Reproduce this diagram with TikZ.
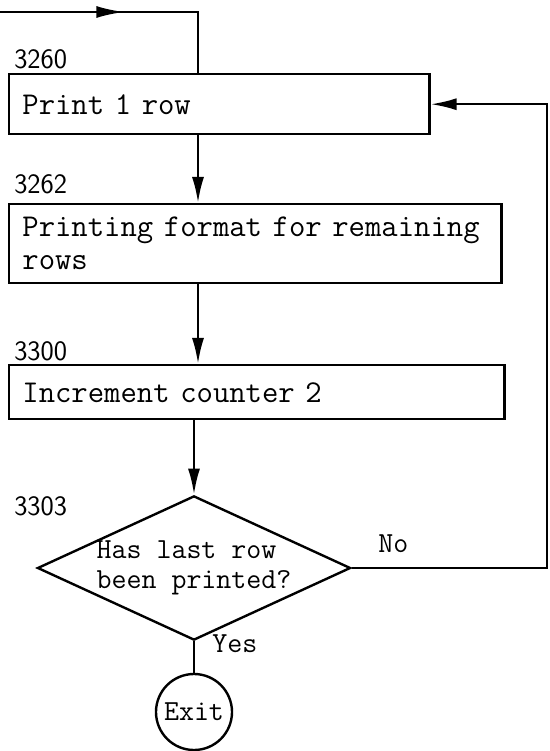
\documentclass[tikz,border=0pt]{standalone}
\usepackage{tikz}
\usetikzlibrary{arrows.meta, positioning, shapes.geometric, decorations.markings}

\begin{document}
\begin{tikzpicture}[x=0.025cm, y=-0.025cm,
procbox/.style={rectangle, draw, line width=1.7pt, anchor=north west, align=left, inner xsep=0.33cm, font=\fontsize{22.6}{23.5}\selectfont\ttfamily},
decisionnode/.style={diamond, draw, line width=1.7pt, aspect=2.17, minimum width=7.75cm, minimum height=3.575cm, inner sep=0pt, align=left, font=\fontsize{20.7}{21.5}\selectfont\ttfamily},
exitnode/.style={circle, draw, line width=1.7pt, minimum size=1.9cm, inner sep=0pt, font=\fontsize{20.7}{20}\selectfont\ttfamily},
stepnum/.style={anchor=base west, inner sep=0pt, font=\fontsize{20}{20}\selectfont\sffamily},
answer/.style={anchor=base west, inner sep=0pt, font=\fontsize{20.7}{20}\selectfont\ttfamily},
flowline/.style={line width=1.8pt},
flowarrow/.style={flowline, -{Latex[length=0.65cm, width=0.3cm]}},
]
\useasboundingbox (0,0) rectangle (550,751);

%Nodes
\node[procbox, text width=9.84cm, minimum height=1.5cm] (print) at (8,73) {Print 1 row};
\node[procbox, text width=11.64cm, minimum height=1.975cm] (format) at (8,203) {Printing format for remaining\\rows};
\node[procbox, text width=11.715cm, minimum height=1.35cm] (incr) at (8,364) {Increment counter 2};
\node[decisionnode] (last) at (194,568) {Has last row\\been printed?};
\node[exitnode] (exit) at (194,712) {Exit};

%Step numbers
\node[stepnum] (n3260) at (14,68) {3260};
\node[stepnum] (n3262) at (14,193) {3262};
\node[stepnum] (n3300) at (14,360) {3300};
\node[stepnum] (n3303) at (14,515) {3303};
\node[answer] (yes) at (212,652) {Yes};
\node[answer] (no) at (378,552) {No};

%Lines
\coordinate (entry) at (0,12);
\coordinate (col) at (198,0);
\coordinate (rtrail) at (547,0);
\draw[flowline, postaction=decorate, decoration={markings, mark=at position 0.48 with {\arrow{Latex[length=0.7cm, width=0.3cm]}}}] (entry) -| (print.north -| col);
\draw[flowarrow] (print.south -| col) -- (format.north -| col);
\draw[flowarrow] (format.south -| col) -- (incr.north -| col);
\draw[flowarrow] (incr.south -| last.north) -- (last.north);
\draw[flowline] (last.south) -- (exit.north);
\draw[flowarrow] (last.east) -- (last.east -| rtrail) |- (print.east);

\end{tikzpicture}
\end{document}
